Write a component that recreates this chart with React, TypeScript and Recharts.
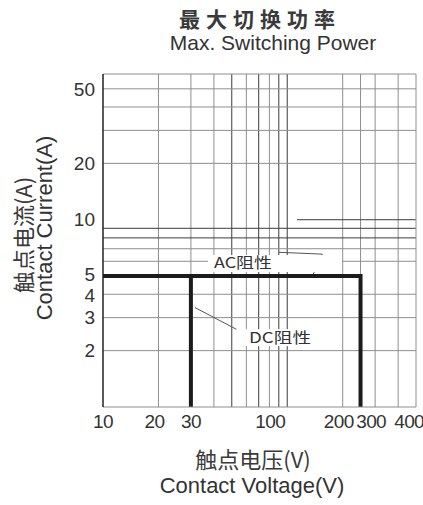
import React from "react";
import { ComposedChart, Line, XAxis, YAxis, ReferenceLine, ReferenceDot } from "recharts";

// 最大切换功率 — values
const xTicks = [10, 20, 30, 100, 200, 300, 400];
const yTicks = [2, 3, 4, 5, 10, 20, 50];
const xGrid = [20, 30, 40, 50, 60, 70, 80, 90, 100, 200, 250, 300, 400];
const yGrid = [2, 3, 4, 6, 7, 8, 9, 20, 30, 40, 50];
const darkX = [50, 70, 90, 100];
const darkY = [8, 9];

const acVoltage = [10, 250, 250];
const acCurrent = [5, 5, 1];
const dcVoltage = [30, 30];
const dcCurrent = [5, 1];

const acLeaderV = [90, 155, 137];
const acLeaderA = [6.7, 6.55, 5];
const dcLeaderV = [31.5, 53];
const dcLeaderA = [3.4, 2.6];

const acData = acVoltage.map((v, i) => ({ v, i: acCurrent[i] }));
const dcData = dcVoltage.map((v, i) => ({ v, i: dcCurrent[i] }));

const FONT = "'Liberation Sans', Arial, 'Noto Sans CJK SC', sans-serif";
const CJK = "'Noto Sans CJK SC', 'Liberation Sans', sans-serif";
const GRID = "#8e8e8e";
const DARK = "#3c3c3c";
const TXT = "#333";

const tickShift: Record<number, number> = { 20: -4, 100: -17, 200: -4, 300: -4, 400: 11 };
const yShift: Record<number, number> = { 5: -1.5, 4: 1 };

function XTick(props: any) {
  const { x, y, payload } = props;
  return (
    <text x={x + (tickShift[payload.value] || 0)} y={y} dy="0.71em" textAnchor="middle"
      fontSize={19} letterSpacing={-0.6} fill={TXT} fontFamily={FONT}>
      {payload.value}
    </text>
  );
}

function YTick(props: any) {
  const { x, y, payload } = props;
  return (
    <text x={x} y={y + (yShift[payload.value] || 0)} dy="0.355em" textAnchor="end" fontSize={19} fill={TXT} fontFamily={FONT}>
      {payload.value}
    </text>
  );
}

function Tag(label: string, w: number, left: number, right: number) {
  return (p: any) => (
    <g>
      <rect x={p.cx - left} y={p.cy - 8} width={left + right} height={17} fill="#fff" />
      <text x={p.cx} y={p.cy} dy="0.36em" textAnchor="middle" fontSize={15} fill={TXT} fontFamily={CJK}
        textLength={w} lengthAdjust="spacingAndGlyphs">
        {label}
      </text>
    </g>
  );
}

const abs = (extra: React.CSSProperties): React.CSSProperties => ({
  position: "absolute", whiteSpace: "nowrap", lineHeight: 1, color: TXT, ...extra,
});

export default function App() {
  return (
    <div style={{ position: "absolute", left: 0, top: 0, width: 423, height: 505, background: "#fff", overflow: "hidden" }}>
      <ComposedChart width={423} height={505} margin={{ top: 74, right: 7, bottom: 68, left: 0 }}>
        <XAxis dataKey="v" type="number" scale="log" domain={[10, 500]} ticks={xTicks} interval={0}
          allowDataOverflow tick={<XTick />} tickSize={0} tickMargin={8} height={30}
          axisLine={{ stroke: GRID }} tickLine={false} />
        <YAxis dataKey="i" type="number" scale="log" domain={[1, 60]} ticks={yTicks} interval={0}
          allowDataOverflow tick={<YTick />} tickSize={0} tickMargin={8} width={103}
          axisLine={{ stroke: "#222", strokeWidth: 1.5 }} tickLine={false} />

        {xGrid.map((v) => (
          <ReferenceLine key={"x" + v} x={v} stroke={darkX.includes(v) ? DARK : GRID} strokeWidth={1} />
        ))}
        {yGrid.map((v) => (
          <ReferenceLine key={"y" + v} y={v} stroke={darkY.includes(v) ? DARK : GRID} strokeWidth={1} />
        ))}
        <ReferenceLine segment={[{ x: 113, y: 10 }, { x: 500, y: 10 }]} stroke={DARK} />
        <ReferenceLine y={60} stroke={GRID} />
        <ReferenceLine x={500} stroke={GRID} />

        <ReferenceDot x={57.5} y={5.87} r={0} shape={Tag("AC阻性", 58, 35, 99)} />
        <ReferenceDot x={91.4} y={2.36} r={0} shape={Tag("DC阻性", 62, 35, 35)} />

        <ReferenceLine segment={[{ x: acLeaderV[0], y: acLeaderA[0] }, { x: acLeaderV[1], y: acLeaderA[1] }]} stroke="#555" />
        <ReferenceLine segment={[{ x: acLeaderV[1], y: acLeaderA[1] }, { x: acLeaderV[2], y: acLeaderA[2] }]} stroke="#555" />
        <ReferenceLine segment={[{ x: dcLeaderV[0], y: dcLeaderA[0] }, { x: dcLeaderV[1], y: dcLeaderA[1] }]} stroke="#555" />

        <Line data={acData} dataKey="i" stroke="#1c1c1c" strokeWidth={4} dot={false} isAnimationActive={false} type="linear" />
        <Line data={dcData} dataKey="i" stroke="#1c1c1c" strokeWidth={4} dot={false} isAnimationActive={false} type="linear" />
      </ComposedChart>

      <div style={abs({ left: 257, top: 18, transform: "translate(-50%,-50%)", fontFamily: CJK, fontSize: 21, fontWeight: 700, color: "#3a3a3a", letterSpacing: 6, paddingLeft: 6 })}>
        最大切换功率
      </div>
      <div style={abs({ left: 273, top: 42, transform: "translate(-50%,-50%)", fontFamily: FONT, fontSize: 21 })}>
        Max. Switching Power
      </div>
      <div style={abs({ left: 253, top: 458, transform: "translate(-50%,-50%)", fontFamily: CJK, fontSize: 22, color: "#3a3a3a" })}>
        触点电压(V)
      </div>
      <div style={abs({ left: 252, top: 486, transform: "translate(-50%,-50%)", fontFamily: FONT, fontSize: 22 })}>
        Contact Voltage(V)
      </div>
      <div style={abs({ left: 22, top: 235, transform: "translate(-50%,-50%) rotate(-90deg)", fontFamily: CJK, fontSize: 22, color: "#3a3a3a" })}>
        触点电流(A)
      </div>
      <div style={abs({ left: 45, top: 228, transform: "translate(-50%,-50%) rotate(-90deg)", fontFamily: FONT, fontSize: 22 })}>
        Contact Current(A)
      </div>
    </div>
  );
}
